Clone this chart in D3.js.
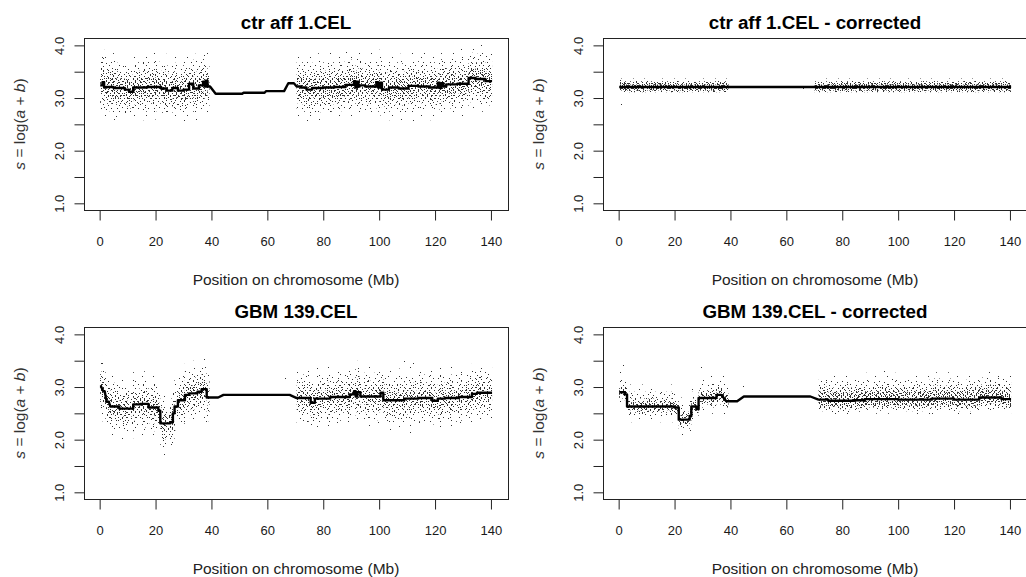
<!DOCTYPE html>
<html>
<head>
<meta charset="utf-8">
<script src="https://cdn.jsdelivr.net/npm/d3@7"></script>
<style>
body { margin: 0; background: #fff; }
text { font-family: "Liberation Sans", Arial, sans-serif; }
</style>
</head>
<body>
<script>
// axis ticks
var xTicks = [0, 20, 40, 60, 80, 100, 120, 140];
var yTicks = [1, 1.5, 2, 2.5, 3, 3.5, 4];
var yTickLabels = ["1.0", "", "2.0", "", "3.0", "", "4.0"];

var titles = ["ctr aff 1.CEL", "ctr aff 1.CEL - corrected", "GBM 139.CEL", "GBM 139.CEL - corrected"];

// chromosome arms that carry probes (Mb)
var arms = [[0.2, 39.3], [70.1, 140.4]];

// smoothed level: [start Mb, end Mb, level]
var ctrSegments = [
  [0.2, 1, 3.24], [1, 1.6, 3.3], [1.6, 2.4, 3.2], [2.4, 5, 3.21], [5, 9, 3.19], [9, 10.5, 3.16], [10.5, 12, 3.12],
  [12, 17, 3.2], [17, 22, 3.21], [22, 24, 3.18], [24, 26, 3.14], [26, 28, 3.19],
  [28, 30, 3.14], [30, 32, 3.16], [32, 33.5, 3.27], [33.5, 35.5, 3.18], [35.5, 37, 3.24],
  [37, 37.6, 3.31], [37.6, 38, 3.22], [38, 38.6, 3.33], [38.6, 39.5, 3.22],
  [41.5, 51, 3.08], [51.5, 59, 3.10], [59.5, 66, 3.13], [67.5, 69.5, 3.28],
  [70.5, 72, 3.22], [72, 74, 3.2], [74, 76, 3.16], [76, 80, 3.19], [80, 84, 3.2],
  [84, 88, 3.21], [88, 91, 3.25], [91, 91.5, 3.32], [91.5, 92, 3.2], [92, 92.6, 3.31], [92.6, 93, 3.22], [93, 95, 3.24],
  [95, 99, 3.22], [99, 99.6, 3.3], [99.6, 100.2, 3.2], [100.2, 101, 3.29], [101, 103.5, 3.16], [103.5, 107, 3.2], [107, 110.5, 3.18],
  [110.5, 114, 3.23], [114, 118, 3.22], [118, 121, 3.2], [121, 121.6, 3.29], [121.6, 122.2, 3.19], [122.2, 123, 3.28], [123, 124, 3.22],
  [124, 128, 3.26], [128, 132, 3.27], [132, 134.5, 3.38], [134.5, 138, 3.36], [138, 140.4, 3.32]
];
var ctrCorSegments = [
  [0.2, 39.3, 3.21], [70.1, 140.4, 3.21]
];
var gbmSegments = [
  [0.1, 0.5, 3.01], [1.3, 1.8, 2.92], [2.5, 3.3, 2.72], [3.8, 7, 2.63], [7, 12, 2.59],
  [12, 14.5, 2.67], [14.5, 17.5, 2.68], [17.5, 21, 2.61], [21, 21.7, 2.55], [21.7, 25.3, 2.31],
  [25.3, 26.2, 2.33], [26.2, 26.8, 2.5], [26.8, 28, 2.63], [28, 30.5, 2.75], [30.5, 32, 2.85],
  [32, 35, 2.88], [35, 36.5, 2.91], [36.5, 38.3, 2.96], [38.3, 42.4, 2.80],
  [44.3, 68, 2.85],
  [70.5, 75.5, 2.79], [75.5, 77, 2.70], [77, 82.5, 2.78], [82.5, 89.5, 2.81], [89.5, 91, 2.86],
  [91, 91.6, 2.92], [91.6, 92.2, 2.82], [92.2, 93.3, 2.9], [93.3, 100.5, 2.82], [100.5, 101.5, 2.89], [101.5, 109, 2.75], [109, 114, 2.78],
  [114, 119, 2.79], [119, 121, 2.74], [121, 123.6, 2.78], [123.6, 128.4, 2.79], [128.4, 133.2, 2.81],
  [133.2, 135, 2.87], [135, 140.4, 2.89]
];
var gbmCorSegments = [
  [0.2, 2.2, 2.90], [2.2, 3.0, 2.86], [3.0, 20, 2.63], [20, 21.5, 2.61], [21.5, 25.4, 2.38],
  [25.4, 26, 2.45], [26, 27.8, 2.63], [27.8, 28.6, 2.58], [28.6, 35, 2.79], [35, 36.8, 2.85],
  [38.5, 42.4, 2.73], [44.8, 68.6, 2.82],
  [71.5, 75, 2.76], [75, 84, 2.74], [84, 88, 2.75], [88, 100, 2.77], [100, 112, 2.76],
  [112, 120, 2.78], [120, 129, 2.76], [129, 137, 2.80], [137, 140.4, 2.77]
];

// spread of the probe cloud around the level, per arm: [outermost, outer, middle, core]
var ctrUp = [[0.66, 0.48, 0.32, 0.18], [0.66, 0.48, 0.32, 0.18]];
var ctrDown = [[0.62, 0.46, 0.32, 0.18], [0.62, 0.46, 0.32, 0.18]];
var ctrCorUp = [[0.16, 0.11, 0.075, 0.045], [0.16, 0.11, 0.075, 0.045]];
var ctrCorDown = [[0.13, 0.1, 0.065, 0.04], [0.13, 0.1, 0.065, 0.04]];
var gbmUp = [[0.62, 0.45, 0.3, 0.15], [0.6, 0.45, 0.3, 0.15]];
var gbmDown = [[0.6, 0.45, 0.3, 0.15], [0.58, 0.45, 0.3, 0.15]];
var gbmCorUp = [[0.42, 0.28, 0.15, 0.08], [0.5, 0.38, 0.25, 0.15]];
var gbmCorDown = [[0.3, 0.18, 0.12, 0.07], [0.28, 0.22, 0.16, 0.11]];

// isolated probes
var ctrOutliers = [[37.5, 3.82], [88, 3.88], [116, 3.86], [140, 3.83], [112, 2.58], [6, 2.65], [1, 3.78]];
var ctrCorOutliers = [[0.5, 3.35], [1, 2.88], [65.8, 3.19]];
var gbmOutliers = [[0.5, 3.45], [66.3, 3.17], [109, 3.5], [112, 3.45], [26, 1.95], [111, 2.15], [38, 2.35]];
var gbmCorOutliers = [[1.5, 3.42], [29.5, 3.38], [44.5, 3.02], [95, 3.3], [112, 2.5]];

var panels = [
  { title: titles[0], seg: ctrSegments, up: ctrUp, down: ctrDown, out: ctrOutliers, dens: [0.012, 0.045, 0.085, 0.13], col: 0, row: 0 },
  { title: titles[1], seg: ctrCorSegments, up: ctrCorUp, down: ctrCorDown, out: ctrCorOutliers, dens: [0.03, 0.12, 0.2, 0.3], col: 1, row: 0 },
  { title: titles[2], seg: gbmSegments, up: gbmUp, down: gbmDown, out: gbmOutliers, dens: [0.012, 0.04, 0.075, 0.11], col: 0, row: 1 },
  { title: titles[3], seg: gbmCorSegments, up: gbmCorUp, down: gbmCorDown, out: gbmCorOutliers, dens: [0.012, 0.05, 0.1, 0.18], col: 1, row: 1 }
];

var W = 1026, H = 577;
var box = { left: 84, top: 38, right: 508, bottom: 210 };

var svg = d3.select("body").append("svg")
  .attr("width", W).attr("height", H);
var defs = svg.append("defs");

var x = d3.scaleLinear().domain([-5.6, 146.1]).range([box.left, box.right]);
var y = d3.scaleLinear().domain([0.873, 4.14]).range([box.bottom, box.top]);

// dot texture for the probe cloud
var tiles = [[41, 29], [37, 23], [31, 19], [29, 17]];
function makePattern(id, w, h, frac, k) {
  var n = Math.round(w * h * frac);
  var p = defs.append("pattern").attr("id", id)
    .attr("patternUnits", "userSpaceOnUse")
    .attr("width", w).attr("height", h);
  for (var i = 0; i < n; i++) {
    var px = Math.floor(((k * 0.37 + (i + 1) * 0.7548776662) % 1) * w);
    var py = Math.floor(((k * 0.61 + (i + 1) * 0.5698402910) % 1) * h);
    p.append("rect").attr("x", px).attr("y", py)
      .attr("width", 1).attr("height", 1).attr("fill", "#333");
  }
}

function armPoints(seg, arm) {
  var pts = [];
  seg.forEach(function(s) {
    var a = Math.max(s[0], arm[0]), b = Math.min(s[1], arm[1]);
    if (b > a) { pts.push([a, s[2]]); pts.push([b, s[2]]); }
  });
  return pts;
}

panels.forEach(function(p, pi) {
  var g = svg.append("g")
    .attr("transform", "translate(" + (p.col * 519) + "," + (p.row * 289) + ")");

  // cloud
  for (var layer = 0; layer < 4; layer++) {
    var pid = "pat" + pi + "_" + layer;
    makePattern(pid, tiles[layer][0], tiles[layer][1], p.dens[layer], pi * 4 + layer);
    arms.forEach(function(arm, ai) {
      var pts = armPoints(p.seg, arm);
      var up = p.up[ai][layer], down = p.down[ai][layer];
      var area = d3.area()
        .x(function(d) { return x(d[0]); })
        .y0(function(d) { return y(d[1] - down); })
        .y1(function(d) { return y(d[1] + up); });
      g.append("path").attr("d", area(pts)).attr("fill", "url(#" + pid + ")");
    });
  }

  g.selectAll("rect.out").data(p.out).enter().append("rect")
    .attr("class", "out")
    .attr("x", function(d) { return Math.round(x(d[0])); })
    .attr("y", function(d) { return Math.round(y(d[1])); })
    .attr("width", 1).attr("height", 1).attr("fill", "#333");

  // smoothed level
  var linePts = [];
  p.seg.forEach(function(s) { linePts.push([s[0], s[2]]); linePts.push([s[1], s[2]]); });
  var line = d3.line().x(function(d) { return x(d[0]); }).y(function(d) { return y(d[1]); });
  g.append("path").attr("d", line(linePts))
    .attr("fill", "none").attr("stroke", "#000").attr("stroke-width", 2.4)
    .attr("stroke-linejoin", "round");

  // box
  g.append("rect")
    .attr("x", box.left + 0.5).attr("y", box.top + 0.5)
    .attr("width", box.right - box.left).attr("height", box.bottom - box.top)
    .attr("fill", "none").attr("stroke", "#222").attr("stroke-width", 1);

  // axes
  var xa = g.append("g").attr("transform", "translate(0," + (box.bottom + 0.5) + ")")
    .call(d3.axisBottom(x).tickValues(xTicks).tickSize(10).tickSizeOuter(0));
  xa.select(".domain").remove();
  xa.selectAll("line").attr("stroke", "#222");
  xa.selectAll("text").attr("y", 31).attr("dy", "0.35em")
    .attr("font-size", 13).attr("fill", "#1a1a1a");

  var ya = g.append("g").attr("transform", "translate(" + (box.left + 0.5) + ",0)")
    .call(d3.axisLeft(y).tickValues(yTicks).tickSize(10).tickSizeOuter(0)
      .tickFormat(function(d, i) { return yTickLabels[i]; }));
  ya.select(".domain").remove();
  ya.selectAll("line").attr("stroke", "#222");
  ya.selectAll("text").attr("x", null).attr("dy", "0.35em")
    .attr("transform", "translate(-25,0) rotate(-90)")
    .attr("text-anchor", "middle")
    .attr("font-size", 13).attr("fill", "#1a1a1a");
  ya.attr("font-family", null);
  xa.attr("font-family", null);

  var cx = (box.left + box.right) / 2;
  g.append("text").attr("x", cx).attr("y", 22.5).attr("dy", "0.35em")
    .attr("text-anchor", "middle").attr("font-size", 18.8).attr("font-weight", "bold")
    .attr("fill", "#000").text(p.title);

  g.append("text").attr("x", cx).attr("y", 280).attr("dy", "0.35em")
    .attr("text-anchor", "middle").attr("font-size", 15.5).attr("fill", "#222")
    .text("Position on chromosome (Mb)");

  var yt = g.append("text")
    .attr("transform", "translate(20," + ((box.top + box.bottom) / 2) + ") rotate(-90)")
    .attr("dy", "0.35em").attr("text-anchor", "middle")
    .attr("font-size", 15.5).attr("fill", "#333");
  yt.append("tspan").attr("font-style", "italic").text("s");
  yt.append("tspan").text(" = log(");
  yt.append("tspan").attr("font-style", "italic").text("a");
  yt.append("tspan").text(" + ");
  yt.append("tspan").attr("font-style", "italic").text("b");
  yt.append("tspan").text(")");
});
</script>
</body>
</html>
